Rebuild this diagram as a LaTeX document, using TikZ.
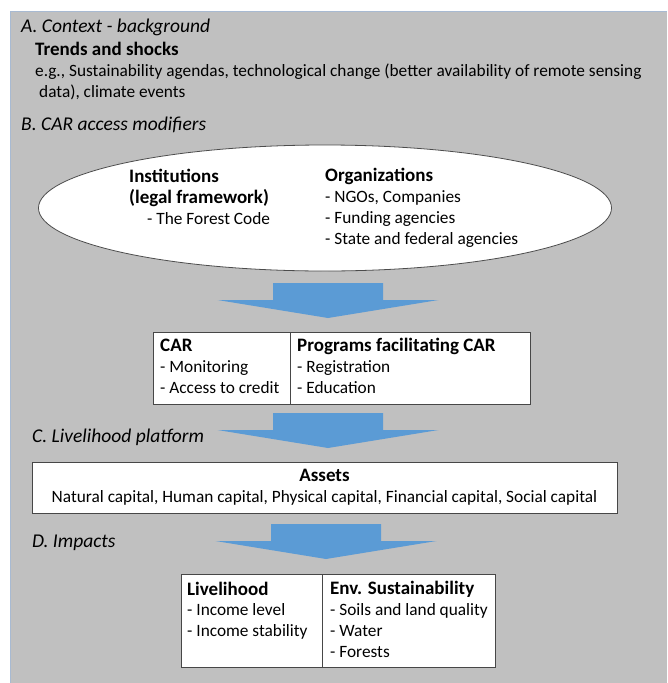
\documentclass[tikz,border=0pt]{standalone}
\usepackage{fontspec}
\setmainfont{Carlito}
\usetikzlibrary{shapes.geometric}
\definecolor{panelgray}{RGB}{192,192,192}
\definecolor{paneledge}{RGB}{168,186,210}
\definecolor{arrowblue}{RGB}{91,155,213}
\newcommand{\hd}[1]{{\fontsize{19}{20.7}\selectfont\bfseries #1}}
\newcommand{\blockarrow}[1]{\fill[arrowblue] (#1) ++(-55,0) -- ++(110,0) -- ++(0,17) -- ++(55.5,0) -- ++(-110.5,18) -- ++(-110.5,-18) -- ++(55.5,0) -- cycle;}
\begin{document}
\begin{tikzpicture}[
    x=1pt, y=-1pt,
    every node/.style={font=\fontsize{17.3}{20.7}\selectfont},
    txt/.style={anchor=base west, align=left, inner sep=0pt},
    sec/.style={txt, font=\fontsize{19.5}{20.7}\selectfont\itshape},
    cell/.style={
        draw=black!72,
        line width=0.9pt,
        fill=white,
        anchor=north west,
        inner sep=0pt
    },
    oval/.style={
        ellipse,
        draw=black!70,
        line width=0.8pt,
        fill=white,
        inner sep=0pt,
        minimum width=573pt,
        minimum height=126pt
    }
]
    \useasboundingbox (0,0) rectangle (667,683);
    \fill[panelgray] (10,11) rectangle (667,683);
    \draw[paneledge, line width=1pt] (10,683) -- (10,11) -- (667,11);

    \node[sec] (secA) at (21,32) {A. Context - background};
    \node[txt] (trends) at (35,55) {\hd{Trends and shocks}};
    \node[txt] (eg) at (35,97.5) {e.g., Sustainability agendas, technological change (better availability of remote sensing\\\hspace*{4pt}data), climate events};

    \node[sec] (secB) at (21,130) {B. CAR access modifiers};
    \node[oval] (mods) at (325,208) {};
    \node[txt] (inst) at (129,224) {\hd{Institutions}\\\hd{(legal framework)}\\\hspace*{18pt}- The Forest Code};
    \node[txt] (orgs) at (325,244) {\hd{Organizations}\\- NGOs, Companies\\- Funding agencies\\- State and federal agencies};

    \coordinate (a1) at (328,283);
    \blockarrow{a1}

    \node[cell, minimum width=137pt, minimum height=72pt] (car) at (153,332) {};
    \node[cell, minimum width=240pt, minimum height=72pt] (prog) at (290,332) {};
    \node[txt] (cartxt) at (160,393) {\hd{CAR}\\- Monitoring\\- Access to credit};
    \node[txt] (progtxt) at (297,393) {\hd{Programs facilitating CAR}\\- Registration\\- Education};

    \coordinate (a2) at (328,413);
    \blockarrow{a2}
    \node[sec] (secC) at (32,442) {C. Livelihood platform};

    \node[cell, minimum width=585pt, minimum height=51pt] (assets) at (32,462) {};
    \node[txt, anchor=base, align=center] (assetstxt) at (324.5,502) {\hd{Assets}\\Natural capital, Human capital, Physical capital, Financial capital, Social capital};

    \coordinate (a3) at (326,524);
    \blockarrow{a3}
    \node[sec] (secD) at (32,547) {D. Impacts};

    \node[cell, minimum width=141pt, minimum height=93pt] (live) at (181,574) {};
    \node[cell, minimum width=173pt, minimum height=93pt] (env) at (322,574) {};
    \node[txt] (livetxt) at (187,636.5) {\hd{Livelihood}\\- Income level\\- Income stability};
    \node[txt] (envtxt) at (330,657) {\hd{Env. Sustainability}\\- Soils and land quality\\- Water\\- Forests};
\end{tikzpicture}
\end{document}
